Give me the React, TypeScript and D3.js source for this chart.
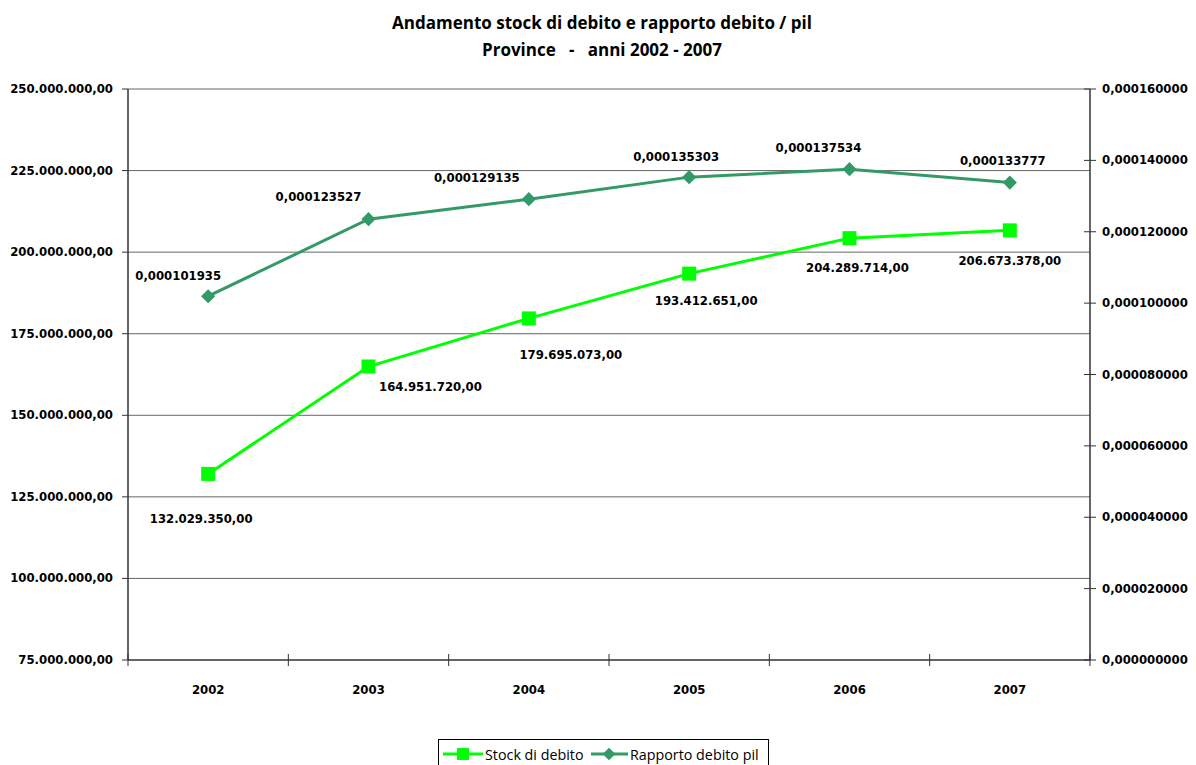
import React from "react";
import * as d3 from "d3";

const years = ["2002", "2003", "2004", "2005", "2006", "2007"];
const stockValues = [132029350, 164951720, 179695073, 193412651, 204289714, 206673378];
const ratioValues = [0.000101935, 0.000123527, 0.000129135, 0.000135303, 0.000137534, 0.000133777];
const leftTicks = [75000000, 100000000, 125000000, 150000000, 175000000, 200000000, 225000000, 250000000];
const rightTicks = [0, 0.00002, 0.00004, 0.00006, 0.00008, 0.0001, 0.00012, 0.00014, 0.00016];

// label offsets (relative to point), styling only
const ratioLabelOffsets = [[-30, -20], [-50, -22], [-52, -21], [-13, -20], [-31, -21], [-7, -22]];
const stockLabelOffsets = [[-7, 45], [62, 20], [42, 37], [17, 27], [8, 30], [0, 31]];

const W = 1196, H = 765;
const L = 128, R = 1090, T = 89, B = 660;

const fmtIt = (v: number) => {
  const s = v.toFixed(2);
  const [i, d] = s.split(".");
  return i.replace(/\B(?=(\d{3})+(?!\d))/g, ".") + "," + d;
};
const fmtRatio = (v: number, n: number) => v.toFixed(n).replace(".", ",");

export default function App() {
  const x = d3.scaleBand<string>().domain(years).range([L, R]);
  const yL = d3.scaleLinear().domain([75000000, 250000000]).range([B, T]);
  const yR = d3.scaleLinear().domain([0, 0.00016]).range([B, T]);
  const cx = (y: string) => (x(y) as number) + x.bandwidth() / 2;

  const stockLine = d3.line<number>().x((_, i) => cx(years[i])).y((v) => yL(v));
  const ratioLine = d3.line<number>().x((_, i) => cx(years[i])).y((v) => yR(v));

  const lab = { fontFamily: "'DejaVu Sans', Verdana, sans-serif", fontWeight: "bold", fontSize: 11.7, fill: "#000" } as const;
  const green = "#00ff00";
  const sea = "#339966";
  const boundaries = years.map((y) => x(y) as number).concat([R]);
  const legendFont = { fontFamily: "'Open Sans', 'Noto Sans', sans-serif", fontSize: 14.3 } as const;

  return (
    <svg width={W} height={H} style={{ position: "absolute", left: 0, top: 0, background: "#fff" }}>
      <text x={602} y={29} textAnchor="middle" style={{ fontFamily: "'Open Sans', 'Noto Sans', sans-serif", fontWeight: "bold", fontSize: 17 }}>Andamento stock di debito e rapporto debito / pil</text>
      <text x={602} y={56} textAnchor="middle" style={{ fontFamily: "'Open Sans', 'Noto Sans', sans-serif", fontWeight: "bold", fontSize: 17 }} xmlSpace="preserve">Province   -   anni 2002 - 2007</text>

      {leftTicks.map((t) => (
        <g key={t}>
          {t > 75000000 && <line x1={L} x2={R} y1={yL(t)} y2={yL(t)} stroke="#666" strokeWidth={1} />}
          <line x1={L - 6} x2={L} y1={yL(t)} y2={yL(t)} stroke="#333" />
          <text x={L - 15} y={yL(t) + 4} textAnchor="end" style={lab}>{fmtIt(t)}</text>
        </g>
      ))}
      {rightTicks.map((t) => (
        <g key={t}>
          <line x1={R - 6} x2={R + 6} y1={yR(t)} y2={yR(t)} stroke="#333" />
          <text x={R + 12} y={yR(t) + 4} textAnchor="start" style={lab}>{fmtRatio(t, 9)}</text>
        </g>
      ))}
      <line x1={L} x2={L} y1={T} y2={B} stroke="#333" strokeWidth={1.5} />
      <line x1={R} x2={R} y1={T} y2={B} stroke="#333" strokeWidth={1.5} />
      <line x1={L} x2={R} y1={B} y2={B} stroke="#333" strokeWidth={1.5} />
      {boundaries.map((b, i) => (
        <line key={i} x1={b} x2={b} y1={B - 6} y2={B + 6} stroke="#333" />
      ))}
      {years.map((y) => (
        <text key={y} x={cx(y)} y={694} textAnchor="middle" style={lab}>{y}</text>
      ))}

      <path d={ratioLine(ratioValues) || ""} fill="none" stroke={sea} strokeWidth={3} />
      {ratioValues.map((v, i) => (
        <rect key={i} x={cx(years[i]) - 5} y={yR(v) - 5} width={10} height={10} fill={sea} transform={`rotate(45 ${cx(years[i])} ${yR(v)})`} />
      ))}
      <path d={stockLine(stockValues) || ""} fill="none" stroke={green} strokeWidth={3} />
      {stockValues.map((v, i) => (
        <rect key={i} x={cx(years[i]) - 7} y={yL(v) - 7} width={14} height={14} fill={green} />
      ))}

      {ratioValues.map((v, i) => (
        <text key={i} x={cx(years[i]) + ratioLabelOffsets[i][0]} y={yR(v) + ratioLabelOffsets[i][1] + 4} textAnchor="middle" style={lab}>{fmtRatio(v, 9)}</text>
      ))}
      {stockValues.map((v, i) => (
        <text key={i} x={cx(years[i]) + stockLabelOffsets[i][0]} y={yL(v) + stockLabelOffsets[i][1] + 4} textAnchor="middle" style={lab}>{fmtIt(v)}</text>
      ))}

      <g>
        <rect x={438.5} y={739.5} width={330} height={40} fill="#fff" stroke="#000" strokeWidth={1} />
        <line x1={443} x2={483} y1={754} y2={754} stroke={green} strokeWidth={3} />
        <rect x={457} y={748} width={12} height={12} fill={green} />
        <text x={485} y={760} style={legendFont}>Stock di debito</text>
        <line x1={591} x2={628} y1={754} y2={754} stroke={sea} strokeWidth={3} />
        <rect x={604.5} y={749.5} width={9} height={9} fill={sea} transform="rotate(45 609 754)" />
        <text x={630} y={760} style={legendFont}>Rapporto debito pil</text>
      </g>
    </svg>
  );
}
